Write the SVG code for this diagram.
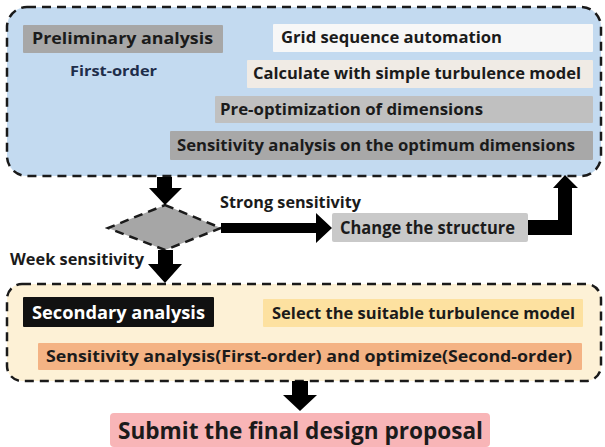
<svg xmlns="http://www.w3.org/2000/svg" width="605" height="447" viewBox="0 0 605 447">
<style>
.t{font-family:"Open Sans","Noto Sans","Liberation Sans",sans-serif;font-weight:700;fill:#1b1b1b}
.dash{stroke:#1a1a1a;stroke-width:2.5;stroke-dasharray:9 6}
.arr{fill:#000}
</style>
<rect width="605" height="447" fill="#ffffff"/>
<g id="stage1">
<rect x="7" y="7" width="594" height="169" rx="20" fill="#c3daf0" class="dash"/>
<g id="prelim"><rect x="23" y="25" width="200" height="28" rx="1" fill="#a7a7a7"/><text class="t" x="32" y="44" font-size="16.5" textLength="181" lengthAdjust="spacingAndGlyphs">Preliminary analysis</text></g>
<g id="firstorder"><text class="t" x="70" y="76" font-size="14" fill="#1e2d4a" style="fill:#1e2d4a" textLength="87" lengthAdjust="spacingAndGlyphs">First-order</text></g>
<g id="grid"><rect x="273" y="24" width="320" height="28" rx="1" fill="#f7f7f7"/><text class="t" x="281" y="43" font-size="16" textLength="221" lengthAdjust="spacingAndGlyphs">Grid sequence automation</text></g>
<g id="calc"><rect x="247" y="60" width="346" height="28" rx="1" fill="#f0ebe5"/><text class="t" x="253" y="79" font-size="16" textLength="328" lengthAdjust="spacingAndGlyphs">Calculate with simple turbulence model</text></g>
<g id="preopt"><rect x="215" y="96" width="378" height="27" rx="1" fill="#c0c0c0"/><text class="t" x="220" y="115" font-size="16" textLength="263" lengthAdjust="spacingAndGlyphs">Pre-optimization of dimensions</text></g>
<g id="sens"><rect x="170" y="131" width="423" height="29" rx="1" fill="#a8a8a8"/><text class="t" x="177" y="151" font-size="16" textLength="398" lengthAdjust="spacingAndGlyphs">Sensitivity analysis on the optimum dimensions</text></g>
</g>
<g id="decision"><polygon points="165,205 221,228 165,250 108,228" fill="#a6a6a6" class="dash" stroke-dasharray="7 5"/></g>
<g id="change"><rect x="332" y="213" width="196" height="29" rx="2" fill="#c9c9c9"/><text class="t" x="340" y="234" font-size="17.5" textLength="175" lengthAdjust="spacingAndGlyphs">Change the structure</text></g>
<g id="labels">
<text class="t" x="220" y="208" font-size="16.5" textLength="141" lengthAdjust="spacingAndGlyphs">Strong sensitivity</text>
<text class="t" x="10" y="265" font-size="16.5" textLength="134" lengthAdjust="spacingAndGlyphs">Week sensitivity</text>
</g>
<g id="stage2">
<rect x="7" y="284" width="594" height="97" rx="15" fill="#fdf1d6" class="dash"/>
<g id="secondary"><rect x="23" y="297" width="191" height="30" rx="1" fill="#111111"/><text class="t" x="32" y="319" font-size="17" style="fill:#ffffff" textLength="173" lengthAdjust="spacingAndGlyphs">Secondary analysis</text></g>
<g id="select"><rect x="263" y="299" width="320" height="28" rx="1" fill="#fde1a0"/><text class="t" x="272" y="319" font-size="16" textLength="303" lengthAdjust="spacingAndGlyphs">Select the suitable turbulence model</text></g>
<g id="optimize"><rect x="38" y="343" width="544" height="27" rx="1" fill="#f4b384"/><text class="t" x="46" y="362" font-size="16" textLength="526" lengthAdjust="spacingAndGlyphs">Sensitivity analysis(First-order) and optimize(Second-order)</text></g>
</g>
<g id="submit"><rect x="110" y="413" width="380" height="34" rx="4" fill="#f8b5b7"/><text class="t" x="118" y="439" font-size="24" textLength="365" lengthAdjust="spacingAndGlyphs">Submit the final design proposal</text></g>
<g id="connectors">
<polygon class="arr" points="157,177 172,177 172,188 182,188 165,205 149,188 157,188"/>
<polygon class="arr" points="158,250 173,250 173,264 182,264 165,283 148,264 158,264"/>
<polygon class="arr" points="221,223 316,223 316,213 332,228 316,243 316,233 221,233"/>
<polygon class="arr" points="528,220 558,220 558,188 553,188 565,175 578,188 572,188 572,235 528,235"/>
<polygon class="arr" points="292,381 308,381 308,395 317,395 300,411 283,395 292,395"/>
</g>
</svg>
